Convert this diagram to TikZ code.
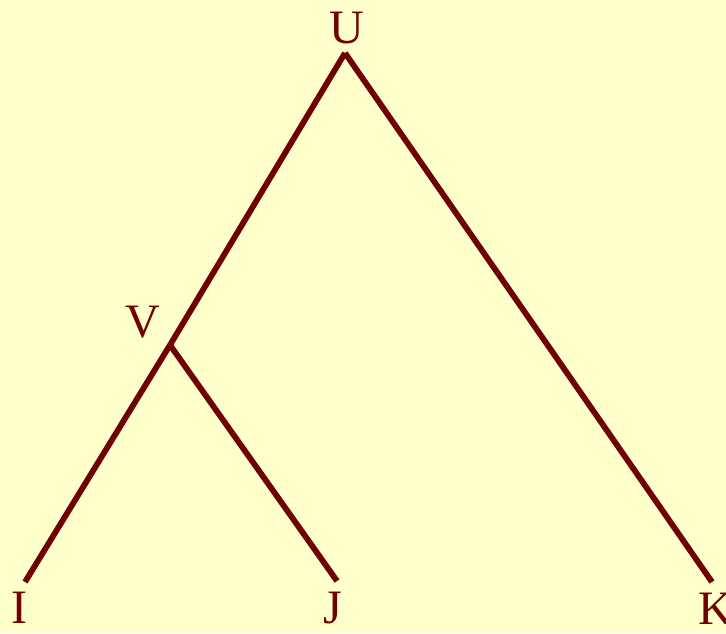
\documentclass[tikz,border=0pt]{standalone}
\usepackage{fontspec}
\setmainfont{Liberation Serif}
\usepackage{xcolor}
\definecolor{paper}{HTML}{FFFFCC}
\definecolor{branch}{HTML}{6E0000}

\begin{document}
\begin{tikzpicture}[
            x=0.5pt, y=-0.5pt,
            edge/.style={draw=branch, line width=2.9pt},
            lbl/.style={text=branch, font=\fontsize{24}{28}\selectfont, anchor=base, inner sep=0pt}
        ]
            \fill[paper] (0,0) rectangle (726,633);
            \useasboundingbox (0,0) rectangle (726,633);

            \coordinate (u) at (345,53);
            \coordinate (v) at (170,345);
            \coordinate (i) at (25,582);
            \coordinate (j) at (337,581);
            \coordinate (k) at (712,582);

            \node[lbl] (ulbl) at (347,43) {U};
            \node[lbl] (vlbl) at (143,337) {V};
            \node[lbl] (ilbl) at (19,623) {I};
            \node[lbl] (jlbl) at (333,623) {J};
            \node[lbl] (klbl) at (716,624) {K};

            \draw[edge] (u) -- (v);
            \draw[edge] (v) -- (i);
            \draw[edge] (v) -- (j);
            \draw[edge] (u) -- (k);
        \end{tikzpicture}
\end{document}
